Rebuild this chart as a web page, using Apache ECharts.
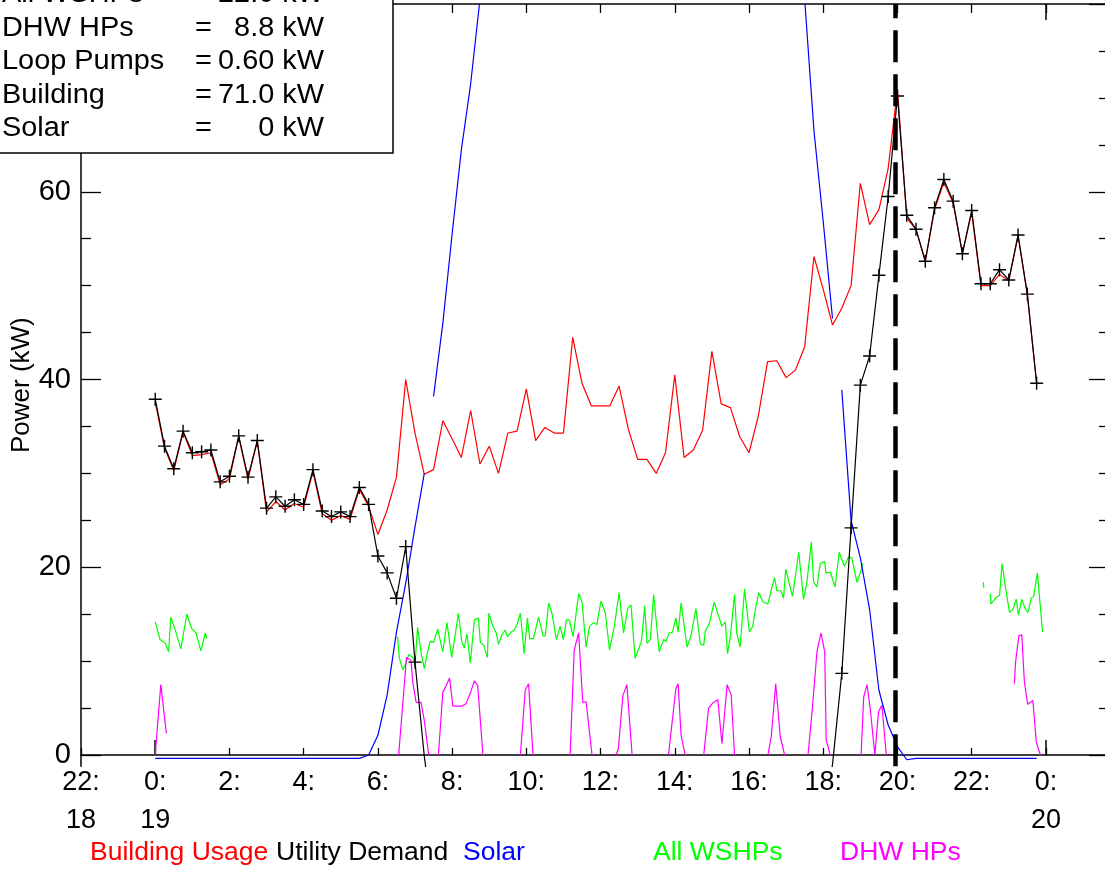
<!DOCTYPE html>
<html><head><meta charset="utf-8">
<script src="https://cdn.jsdelivr.net/npm/echarts@6/dist/echarts.min.js"></script>
<style>html,body{margin:0;padding:0;background:#fff}#c{width:1105px;height:871px}</style>
</head><body><div id="c"></div>
<script>
// ---------------- data (hours from 0:00 on the 19th) ----------------
const stepHours = 0.25;
const buildingUsage = [
  37.6, 32.7, 30.3, 34.4, 31.9, 32.0, 32.2, 28.8, 29.4, 33.9, 29.4, 33.4, 25.9, 27.0, 26.1, 26.8, 26.4, 30.2, 25.7, 25.0, 25.5, 25.1, 28.3, 26.5,
  23.5, 26.1, 29.6, 40.0, 34.3, 29.9, 30.4, 35.6, 33.7, 31.7, 36.7, 31.0, 32.9, 30.0, 34.3, 34.5, 39.0, 33.5, 34.9, 34.3, 34.3, 44.5, 39.6, 37.2,
  37.2, 37.2, 39.3, 34.7, 31.5, 31.5, 30.0, 32.2, 40.5, 31.7, 32.5, 34.6, 43.0, 37.4, 37.0, 33.9, 32.2, 36.1, 41.9, 42.0, 40.2, 41.0, 43.5, 53.1,
  49.6, 45.8, 47.6, 50.0, 60.9, 56.5, 58.1, 62.5, 70.9, 57.2, 56.0, 52.6, 58.1, 61.0, 58.8, 53.4, 57.8, 50.0, 50.0, 51.2, 50.5, 55.3, 49.0, 39.6
];
const utilityDemand = [
  37.9, 32.9, 30.5, 34.5, 32.2, 32.3, 32.5, 29.1, 29.7, 34.0, 29.6, 33.5, 26.3, 27.5, 26.5, 27.2, 26.7, 30.4, 26.0, 25.4, 25.9, 25.4, 28.5, 26.7,
  21.2, 19.4, 16.7, 22.2, 9.9, -0.1, -7.8,
  null, null, null, null, null, null, null, null, null, null, null, null, null, null, null, null, null, null, null, null,
  null, null, null, null, null, null, null, null, null, null, null, null, null, null, null, null, null, null, null, null, null,
  -7.2, -1.0, 8.7, 24.2, 39.4, 42.5, 51.1, 59.5, 70.2,
  57.5, 56.0, 52.6, 58.3, 61.3, 59.0, 53.4, 58.0, 50.2, 50.2, 51.7, 50.6, 55.4, 49.1, 39.6
];
const solar = [
  -0.35, -0.35, -0.35, -0.35, -0.35, -0.35, -0.35, -0.35, -0.35, -0.35, -0.35, -0.35,
  -0.35, -0.35, -0.35, -0.35, -0.35, -0.35, -0.35, -0.35, -0.35, -0.35, -0.35, 0.0,
  2.1, 6.4, 13.1, 18.3, 24.3, 30.0,
  38.2, 46.0, 55.5, 64.5, 71.5, 80.5, 88.0,
  null, null, null, null, null, null, null, null, null, null, null, null, null, null, null, null,
  null, null, null, null, null, null, null, null, null, null, null, null, null, null, null, null,
  88.0, 80.5, 66.5, 56.8, 46.5,
  38.9, 25.0, 21.0, 15.5, 6.9, 3.2, 0.9, -0.5,
  -0.35, -0.35, -0.35, -0.35, -0.35, -0.35, -0.35, -0.35, -0.35, -0.35, -0.35, -0.35, -0.35, -0.35
];
const solarBreaksAfter = [7.25, 18.25];
// [hour, kW]; null marks a gap
const allWshps = [
  [0.00,14.2],[0.13,12.3],[0.27,11.9],[0.36,11.0],[0.42,14.7],[0.54,13.3],[0.69,11.3],[0.85,15.0],[0.98,13.5],[1.10,13.0],[1.23,11.1],[1.35,13.0],[1.39,12.4],
  [4.0,null],
  [6.53,12.6],[6.58,10.3],[6.67,9.1],[6.76,9.8],[6.83,10.7],[6.94,10.4],[7.00,9.6],[7.07,13.6],[7.16,11.0],[7.25,9.2],[7.34,11.0],[7.41,12.1],[7.50,12.0],
  [7.61,13.4],[7.75,11.0],[7.86,14.1],[7.99,10.4],[8.17,15.1],[8.26,12.1],[8.33,11.4],[8.40,12.9],[8.49,9.8],[8.60,14.4],[8.71,14.6],[8.76,12.0],[8.85,11.7],
  [8.95,10.4],[8.99,15.1],[9.10,13.7],[9.19,13.0],[9.25,11.8],[9.34,12.8],[9.43,13.3],[9.49,12.6],[9.59,13.1],[9.67,13.3],[9.75,13.9],[9.84,15.1],[9.94,10.8],
  [10.03,14.6],[10.09,12.4],[10.19,12.4],[10.33,14.7],[10.45,12.7],[10.51,12.7],[10.60,16.2],[10.69,15.1],[10.81,12.3],[10.91,13.7],[11.00,12.3],[11.08,14.4],
  [11.16,14.4],[11.26,12.6],[11.41,17.2],[11.50,16.3],[11.61,11.5],[11.70,13.7],[11.81,14.1],[11.90,13.9],[12.01,16.4],[12.13,15.1],[12.24,11.2],[12.37,13.7],
  [12.50,17.3],[12.62,13.0],[12.73,15.6],[12.82,16.0],[12.93,10.3],[13.10,12.1],[13.19,15.9],[13.25,11.9],[13.34,12.3],[13.43,17.1],[13.58,11.0],[13.70,12.3],
  [13.76,12.1],[13.85,13.0],[13.94,13.1],[14.03,14.6],[14.09,13.1],[14.17,16.2],[14.33,11.5],[14.43,12.6],[14.57,15.6],[14.69,11.8],[14.78,11.7],[14.82,13.2],
  [14.93,14.0],[15.06,16.3],[15.27,13.7],[15.36,14.2],[15.42,10.8],[15.49,12.4],[15.61,17.1],[15.67,13.0],[15.76,11.5],[15.88,17.7],[16.01,13.1],[16.10,13.7],
  [16.19,15.9],[16.26,17.3],[16.38,16.3],[16.51,16.1],[16.62,17.9],[16.69,18.9],[16.75,17.5],[16.86,17.5],[16.93,16.7],[16.99,19.8],[17.17,16.9],[17.34,21.6],
  [17.47,16.6],[17.56,18.4],[17.68,22.7],[17.74,18.4],[17.83,17.9],[17.92,20.4],[18.04,20.6],[18.07,19.4],[18.19,19.5],[18.32,17.9],[18.43,21.6],[18.57,20.1],
  [18.68,21.1],[18.77,21.0],[18.91,18.4],[19.02,19.7],[19.07,20.4],
  [21.0,null],
  [22.31,18.4],[22.33,17.8],
  [22.40,null],
  [22.50,17.2],[22.52,16.1],[22.57,16.3],[22.66,16.8],[22.75,17.0],[22.82,20.4],[22.90,18.1],[23.02,15.2],[23.11,15.5],[23.20,16.6],[23.26,14.9],[23.35,16.6],
  [23.44,15.6],[23.52,15.2],[23.60,16.7],[23.67,16.9],[23.77,19.4],[23.91,13.1]
];
const dhwHps = [
  [0.00,0],[0.15,7.5],[0.30,2.3],
  [3.0,null],
  [6.56,0],[6.77,10.4],[6.89,10.1],[6.94,7.8],[7.03,5.6],[7.16,5.6],[7.25,3.7],[7.37,0],
  [7.5,null],
  [7.63,0],[7.75,6.7],[7.84,7.4],[7.93,8.2],[8.02,5.2],[8.26,5.2],[8.38,5.5],[8.49,6.6],[8.60,7.9],[8.69,7.4],[8.83,0],
  [9.3,null],
  [9.84,0],[9.97,6.9],[10.06,7.6],[10.18,0],
  [10.7,null],
  [11.18,0],[11.29,11.2],[11.41,13.0],[11.52,5.6],[11.61,5.7],[11.77,0],
  [12.1,null],
  [12.42,0],[12.48,0.7],[12.60,6.3],[12.71,7.5],[12.85,0],
  [13.3,null],
  [13.83,0],[14.03,7.1],[14.09,7.6],[14.17,2.1],[14.28,0],
  [14.5,null],
  [14.78,0],[14.91,5.0],[15.04,5.6],[15.16,5.9],[15.27,1.2],[15.41,7.5],[15.52,6.4],[15.61,0],
  [16.0,null],
  [16.51,0],[16.60,2.0],[16.72,7.6],[16.84,2.0],[16.96,0],
  [17.3,null],
  [17.59,0],[17.71,5.1],[17.83,11.0],[17.94,13.0],[18.04,11.0],[18.08,1.6],[18.19,0],
  [18.6,null],
  [19.02,0],[19.09,6.2],[19.18,7.5],[19.27,4.8],[19.39,0],[19.49,4.6],[19.58,5.3],[19.70,0],
  [21.0,null],
  [23.15,7.6],[23.18,9.8],[23.27,12.7],[23.35,12.8],[23.42,7.8],[23.51,5.4],[23.65,5.8],[23.74,1.4],[23.85,0]
];
const peakMarkerHour = 19.93;
const dayTickHours = [-2, 0, 24];
const dayTickLabels = ['18', '19', '20'];
const yMajorTicks = [0, 20, 40, 60, 80];
const yMinorTicks = [5, 10, 15, 25, 30, 35, 45, 50, 55, 65, 70, 75];
const summaryLabels = ['All WSHPs', 'DHW HPs', 'Loop Pumps', 'Building', 'Solar'];
const summaryValues = ['22.0 kW', '8.8 kW', '0.60 kW', '71.0 kW', '0 kW'];
const legendNames = ['Building Usage', 'Utility Demand', 'Solar', 'All WSHPs', 'DHW HPs'];

// ---------------- build ----------------
const FONT = '"Liberation Sans", Arial, Helvetica, sans-serif';
const COLORS = { 'Building Usage': '#ff0000', 'Utility Demand': '#000000', 'Solar': '#0000ff', 'All WSHPs': '#00ff00', 'DHW HPs': '#ff00ff' };
const times = buildingUsage.map((_, i) => i * stepHours);
const plusPath = 'path://M0,6L12,6M6,0L6,12';

const buildingData = buildingUsage.map((v, i) => [times[i], v]);
const demandData = utilityDemand.map((v, i) => (v !== null && v < 0)
  ? { value: [times[i], v], symbol: 'none' }
  : [times[i], v]);
const solarData = [];
solar.forEach((v, i) => {
  solarData.push([times[i], v]);
  if (solarBreaksAfter.includes(times[i])) solarData.push([times[i] + stepHours / 2, null]);
});

const chart = echarts.init(document.getElementById('c'), null, { renderer: 'canvas' });

const axisColor = '#000';
const xBase = { type: 'value', min: -2, max: 25.7, interval: 2, gridIndex: 0, splitLine: { show: false } };
const yBase = { type: 'value', min: -1.2, max: 80, gridIndex: 0, splitLine: { show: false } };

function xLabel(v) {
  if (Math.abs(v - Math.round(v)) > 1e-6) return '';
  const h = ((v % 24) + 24) % 24;
  const k = dayTickHours.indexOf(v);
  return k >= 0 ? h + ':\n' + dayTickLabels[k] : h + ':';
}

const lineSeries = (name, data, extra) => Object.assign({
  name, type: 'line', data, xAxisIndex: 0, yAxisIndex: 0,
  showSymbol: false, symbol: 'none', connectNulls: false, silent: true,
  lineStyle: { color: COLORS[name], width: 1.2 }, itemStyle: { color: COLORS[name] },
  emphasis: { disabled: true }, animation: false
}, extra || {});

const rowY0 = -5, rowStep = 33.4;
const graphic = [{
  type: 'rect', z: 100, shape: { x: -3, y: -3, width: 396, height: 156 },
  style: { fill: '#fff', stroke: '#000', lineWidth: 1.5 }
}];
summaryLabels.forEach((lab, i) => {
  const y = rowY0 + i * rowStep;
  const st = { fontSize: 27, fontFamily: FONT, fill: '#000', textVerticalAlign: 'middle' };
  graphic.push({ type: 'text', z: 101, x: 2, y, scaleX: 1.07, style: Object.assign({ text: lab, textAlign: 'left' }, st) });
  graphic.push({ type: 'text', z: 101, x: 195, y, scaleX: 1.07, style: Object.assign({ text: '=', textAlign: 'left' }, st) });
  graphic.push({ type: 'text', z: 101, x: 324, y, scaleX: 1.07, style: Object.assign({ text: summaryValues[i], textAlign: 'right' }, st) });
});

const legendX = [90, 276, 463, 653, 840];
const legends = legendNames.map((n, i) => ({
  data: [n], left: legendX[i] - 5, top: 838, icon: 'none', itemWidth: 0, itemHeight: 0, itemGap: 0, padding: 0,
  selectedMode: false, textStyle: { color: COLORS[n], fontSize: 26.5, fontFamily: FONT, lineHeight: 30 }
}));

const option = {
  animation: false,
  backgroundColor: '#fff',
  textStyle: { fontFamily: FONT },
  grid: { left: 81, right: -4, top: 4, bottom: 104.7, containLabel: false, outerBoundsMode: 'none' },
  legend: legends,
  xAxis: [
    Object.assign({}, xBase, {
      position: 'bottom',
      axisLine: { show: true, onZero: true, lineStyle: { color: axisColor, width: 1.5 } },
      axisTick: { show: true, inside: true, length: 7, lineStyle: { color: axisColor, width: 1.3 } },
      axisLabel: { show: true, formatter: xLabel, fontSize: 27, lineHeight: 38, color: '#000', margin: -3, fontFamily: FONT, hideOverlap: false, showMinLabel: true, showMaxLabel: true }
    }),
    Object.assign({}, xBase, {
      position: 'top',
      axisLine: { show: true, onZero: false, lineStyle: { color: axisColor, width: 1.5 } },
      axisTick: { show: true, inside: true, length: 9, lineStyle: { color: axisColor, width: 1.3 } },
      axisLabel: { show: false }
    }),
    Object.assign({}, xBase, {
      position: 'bottom',
      axisLine: { show: false, onZero: true },
      axisTick: { show: true, inside: true, length: 15, customValues: [0, 24], lineStyle: { color: axisColor, width: 1.5 } },
      axisLabel: { show: false }
    }),
    Object.assign({}, xBase, {
      position: 'top',
      axisLine: { show: false, onZero: false },
      axisTick: { show: true, inside: true, length: 16, customValues: [0, 24], lineStyle: { color: axisColor, width: 1.5 } },
      axisLabel: { show: false }
    })
  ],
  yAxis: [
    Object.assign({}, yBase, {
      position: 'left',
      axisLine: { show: true, onZero: false, lineStyle: { color: axisColor, width: 1.5 } },
      axisTick: { show: true, inside: true, length: 20, customValues: yMajorTicks, lineStyle: { color: axisColor, width: 1.3 } },
      axisLabel: { show: true, customValues: yMajorTicks, fontSize: 29, color: '#000', margin: 10, fontFamily: FONT },
      name: 'Power (kW)', nameLocation: 'middle', nameGap: 46, nameMoveOverlap: false,
      nameTextStyle: { fontSize: 26, color: '#000', fontFamily: FONT }
    }),
    Object.assign({}, yBase, {
      position: 'left',
      axisLine: { show: false, onZero: false },
      axisTick: { show: true, inside: true, length: 10, customValues: yMinorTicks, lineStyle: { color: axisColor, width: 1.3 } },
      axisLabel: { show: false }
    }),
    Object.assign({}, yBase, {
      position: 'right',
      axisLine: { show: true, onZero: false, lineStyle: { color: axisColor, width: 1.5 } },
      axisTick: { show: true, inside: true, length: 20, customValues: yMajorTicks, lineStyle: { color: axisColor, width: 1.3 } },
      axisLabel: { show: false }
    }),
    Object.assign({}, yBase, {
      position: 'right',
      axisLine: { show: false, onZero: false },
      axisTick: { show: true, inside: true, length: 10, customValues: yMinorTicks, lineStyle: { color: axisColor, width: 1.3 } },
      axisLabel: { show: false }
    })
  ],
  series: [
    lineSeries('Building Usage', buildingData, { z: 2 }),
    lineSeries('All WSHPs', allWshps, { z: 2 }),
    lineSeries('DHW HPs', dhwHps, { z: 2 }),
    lineSeries('Solar', solarData, { z: 3 }),
    lineSeries('Utility Demand', demandData, {
      z: 4, showSymbol: true, symbol: plusPath, symbolSize: 13,
      itemStyle: { color: '#000', borderColor: '#000', borderWidth: 1.4 },
      markLine: {
        silent: true, symbol: ['none', 'none'], label: { show: false },
        lineStyle: { color: '#000', width: 4.5, type: [32, 12] },
        data: [{ xAxis: peakMarkerHour }]
      }
    })
  ],
  graphic
};
chart.setOption(option);
</script>
</body></html>
